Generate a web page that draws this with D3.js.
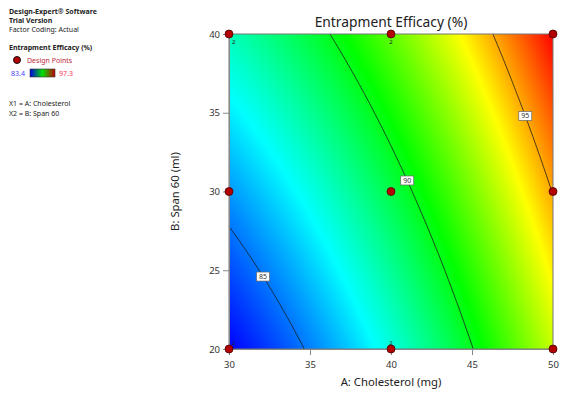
<!DOCTYPE html>
<html>
<head>
<meta charset="utf-8">
<script src="https://cdn.jsdelivr.net/npm/d3@7"></script>
<style>
  body { margin: 0; background: #fff; }
  svg text { font-family: "Noto Sans", "Open Sans", sans-serif; }
</style>
</head>
<body>
<svg id="chart" width="568" height="401"></svg>
<script>
// Factor ticks
const ticksA = [30, 35, 40, 45, 50];   // A: Cholesterol (mg)
const ticksB = [20, 25, 30, 35, 40];   // B: Span 60 (ml)

// Design points (actual factor levels) and replicate counts
const designA = [30, 40, 50, 30, 40, 50, 30, 40, 50];
const designB = [20, 20, 20, 30, 30, 30, 40, 40, 40];
const replicates = [2, 2, 1, 1, 1, 1, 2, 2, 1];

// Fitted quadratic model in coded units: intercept, A, B, AB, A², B²
const coefficients = [89.36, 4.78, 2.17, -0.04, 0.906, 0.13];

// Contour levels and where along B each level gets its tag
const contourLevels = [85, 90, 95];
const labelAtB = [24.6, 30.7, 34.8];

// Colour legend range
const responseRange = [83.4, 97.3];
const rampColors = ["#0000ff", "#00ffff", "#00ff00", "#ffff00", "#ff0000"];
const legendBarColors = ["#0000e0", "#00e000", "#c00000"];

const svg = d3.select("#chart");
const plotL = 229, plotR = 553, plotT = 34, plotB = 349;

const x = d3.scaleLinear().domain([30, 50]).range([plotL, plotR]);
const y = d3.scaleLinear().domain([20, 40]).range([plotB, plotT]);

const ramp = d3.scaleLinear()
  .domain(rampColors.map((_, i) => responseRange[0] + i * (responseRange[1] - responseRange[0]) / (rampColors.length - 1)))
  .range(rampColors)
  .clamp(true);

function model(A, B) {
  const a = (A - 40) / 10, b = (B - 30) / 10;
  const [b0, b1, b2, b12, b11, b22] = coefficients;
  return b0 + b1 * a + b2 * b + b12 * a * b + b11 * a * a + b22 * b * b;
}

// Continuous response surface rendered to a canvas, embedded as an image
const w = plotR - plotL, h = plotB - plotT;
const canvas = document.createElement("canvas");
canvas.width = w; canvas.height = h;
const ctx = canvas.getContext("2d");
const img = ctx.createImageData(w, h);
for (let j = 0; j < h; j++) {
  const B = y.invert(plotT + j + 0.5);
  for (let i = 0; i < w; i++) {
    const A = x.invert(plotL + i + 0.5);
    const c = d3.rgb(ramp(model(A, B)));
    const k = (j * w + i) * 4;
    img.data[k] = c.r; img.data[k + 1] = c.g; img.data[k + 2] = c.b; img.data[k + 3] = 255;
  }
}
ctx.putImageData(img, 0, 0);
svg.append("image")
  .attr("x", plotL).attr("y", plotT).attr("width", w).attr("height", h)
  .attr("href", canvas.toDataURL());

// Contour lines: solve model(A, B) = level along A for each B
function solveA(level, B) {
  let lo = 30, hi = 50;
  if (model(lo, B) > level || model(hi, B) < level) return null;
  for (let it = 0; it < 40; it++) {
    const mid = (lo + hi) / 2;
    if (model(mid, B) < level) lo = mid; else hi = mid;
  }
  return (lo + hi) / 2;
}
function solveB(level, A) {
  let lo = 20, hi = 40;
  if (model(A, lo) > level || model(A, hi) < level) return null;
  for (let it = 0; it < 40; it++) {
    const mid = (lo + hi) / 2;
    if (model(A, mid) < level) lo = mid; else hi = mid;
  }
  return (lo + hi) / 2;
}

const line = d3.line().x(d => x(d[0])).y(d => y(d[1]));
const contourG = svg.append("g");
contourLevels.forEach((level, li) => {
  const pts = [];
  const steps = 200;
  for (let s = 0; s <= steps; s++) {
    const B = 20 + 20 * s / steps;
    const A = solveA(level, B);
    if (A !== null) pts.push([A, B]);
  }
  // close the line onto the side edge it leaves through
  [30, 50].forEach(edgeA => {
    const Be = solveB(level, edgeA);
    if (Be !== null) pts.push([edgeA, Be]);
  });
  pts.sort((p, q) => p[1] - q[1]);
  contourG.append("path")
    .attr("d", line(pts))
    .attr("fill", "none")
    .attr("stroke", "#1a1a1a")
    .attr("stroke-width", 0.8);

  const Bl = labelAtB[li], Al = solveA(level, Bl);
  const lx = x(Al), ly = y(Bl);
  contourG.append("rect")
    .attr("x", lx - 6.5).attr("y", ly - 4.5).attr("width", 13).attr("height", 9)
    .attr("fill", "#fff").attr("stroke", "#666").attr("stroke-width", 0.7);
  contourG.append("text")
    .attr("x", lx).attr("y", ly + 2.5)
    .attr("text-anchor", "middle")
    .attr("font-size", 7).attr("fill", "#333")
    .text(level);
});

// Plot frame
svg.append("rect")
  .attr("x", plotL).attr("y", plotT).attr("width", w).attr("height", h)
  .attr("fill", "none").attr("stroke", "#777").attr("stroke-width", 1);

// Axes
const xAxis = svg.append("g").attr("transform", `translate(0,${plotB})`)
  .call(d3.axisBottom(x).tickValues(ticksA).tickSize(6).tickPadding(6));
const yAxis = svg.append("g").attr("transform", `translate(${plotL},0)`)
  .call(d3.axisLeft(y).tickValues(ticksB).tickSize(6).tickPadding(3));
[xAxis, yAxis].forEach(g => {
  g.select(".domain").attr("stroke", "#888");
  g.selectAll(".tick line").attr("stroke", "#888");
  g.selectAll(".tick text").attr("font-size", 9.5).attr("fill", "#333")
    .attr("font-family", "\"Noto Sans\", sans-serif");
});

// Design points
const dp = svg.append("g");
designA.forEach((A, i) => {
  const B = designB[i];
  dp.append("circle")
    .attr("cx", x(A)).attr("cy", y(B)).attr("r", 4)
    .attr("fill", "#b30000").attr("stroke", "#4a0000").attr("stroke-width", 0.8);
  if (replicates[i] > 1) {
    const atLeft = A === 30;
    dp.append("text")
      .attr("x", x(A) + (atLeft ? 3 : 0))
      .attr("y", B === 40 ? y(B) + 10 : y(B) - 4)
      .attr("text-anchor", atLeft ? "start" : "middle")
      .attr("font-size", 6).attr("fill", "#222")
      .text(replicates[i]);
  }
});

// Titles
svg.append("text")
  .attr("x", (plotL + plotR) / 2).attr("y", 27)
  .attr("text-anchor", "middle").attr("font-size", 13.8).attr("fill", "#222")
  .text("Entrapment Efficacy (%)");
svg.append("text")
  .attr("x", (plotL + plotR) / 2).attr("y", 386)
  .attr("text-anchor", "middle").attr("font-size", 11.3).attr("fill", "#222")
  .text("A: Cholesterol (mg)");
svg.append("text")
  .attr("transform", `translate(179,${(plotT + plotB) / 2}) rotate(-90)`)
  .attr("text-anchor", "middle").attr("font-size", 11.3).attr("fill", "#222")
  .text("B: Span 60 (ml)");

// Side panel
const info = svg.append("g").attr("font-size", 7).attr("fill", "#222");
info.append("text").attr("x", 9).attr("y", 14).attr("font-weight", "bold").text("Design-Expert® Software");
info.append("text").attr("x", 9).attr("y", 23).attr("font-weight", "bold").text("Trial Version");
info.append("text").attr("x", 9).attr("y", 32).text("Factor Coding: Actual");
info.append("text").attr("x", 9).attr("y", 50).attr("font-weight", "bold").text("Entrapment Efficacy (%)");
info.append("circle").attr("cx", 17).attr("cy", 60).attr("r", 3.5)
  .attr("fill", "#b30000").attr("stroke", "#111").attr("stroke-width", 1);
info.append("text").attr("x", 27).attr("y", 62.5).attr("fill", "#c0283a").text("Design Points");

const grad = svg.append("defs").append("linearGradient").attr("id", "legendRamp");
legendBarColors.forEach((c, i) => grad.append("stop")
  .attr("offset", `${i * 100 / (legendBarColors.length - 1)}%`).attr("stop-color", c));
info.append("text").attr("x", 11).attr("y", 75.5).attr("fill", "#4040ff").text(responseRange[0]);
info.append("rect").attr("x", 30).attr("y", 69).attr("width", 25).attr("height", 8)
  .attr("fill", "url(#legendRamp)").attr("stroke", "#333").attr("stroke-width", 0.6);
info.append("text").attr("x", 59).attr("y", 75.5).attr("fill", "#ff3050").text(responseRange[1]);

info.append("text").attr("x", 9).attr("y", 106).text("X1 = A: Cholesterol");
info.append("text").attr("x", 9).attr("y", 115.5).text("X2 = B: Span 60");
</script>
</body>
</html>
